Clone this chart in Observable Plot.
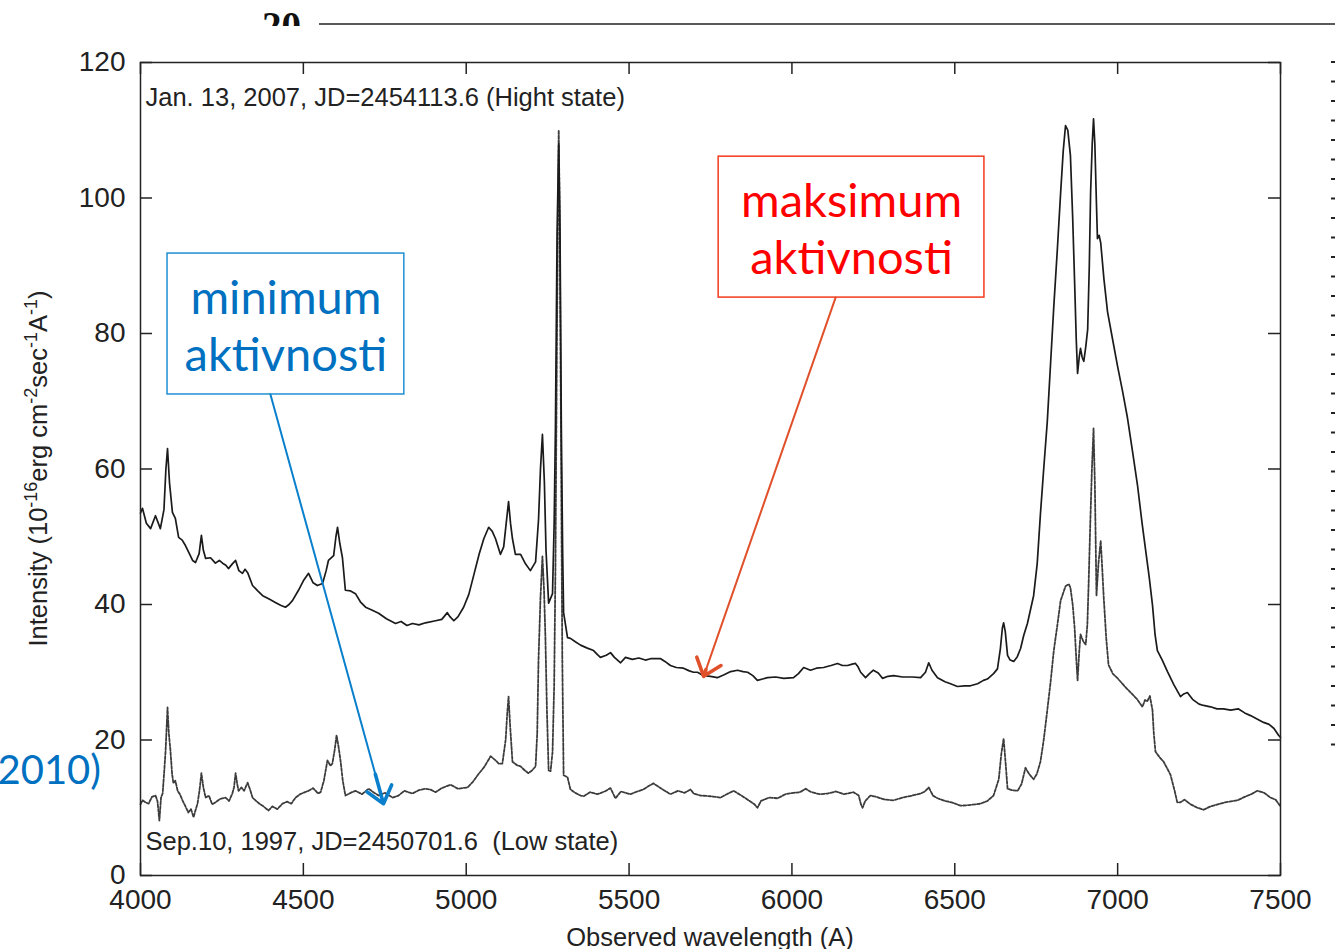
<!DOCTYPE html>
<html>
<head>
<meta charset="utf-8">
<script src="https://cdn.jsdelivr.net/npm/d3@7"></script>
<script src="https://cdn.jsdelivr.net/npm/@observablehq/plot@0.6"></script>
<style>
  html, body { margin: 0; padding: 0; background: #fff; overflow: hidden; }
  svg { display: block; }
</style>
</head>
<body>
<div id="chart"></div>
<script>
// High-state spectrum (Jan. 13, 2007): wavelength in Å, intensity in 1e-16 erg cm^-2 s^-1 Å^-1
const highWavelength = [
  4000, 4006, 4018, 4031, 4046, 4061, 4072, 4078, 4083, 4089, 4098, 4107, 4117, 4128, 4138, 4150,
  4160, 4169, 4180, 4187, 4193, 4200, 4215, 4230, 4242, 4252, 4262, 4270, 4282, 4292, 4302, 4313,
  4321, 4329, 4344, 4360, 4375, 4395, 4414, 4430, 4445, 4456, 4467, 4485, 4500, 4516, 4530, 4543,
  4559, 4570, 4577, 4593, 4600, 4605, 4612, 4620, 4629, 4645, 4660, 4675, 4691, 4710, 4731, 4755,
  4783, 4800, 4818, 4835, 4855, 4875, 4906, 4925, 4942, 4950, 4962, 4975, 4992, 5008, 5023, 5040,
  5054, 5069, 5080, 5090, 5105, 5115, 5121, 5130, 5136, 5142, 5151, 5167, 5182, 5197, 5213, 5222,
  5228, 5234, 5240, 5245, 5253, 5265, 5270, 5274, 5279, 5284, 5288, 5292, 5296, 5299, 5311, 5320,
  5335, 5351, 5370, 5391, 5403, 5412, 5430, 5443, 5455, 5474, 5489, 5510, 5530, 5550, 5566, 5597,
  5610, 5627, 5645, 5667, 5685, 5698, 5710, 5729, 5750, 5771, 5790, 5812, 5833, 5850, 5864, 5880,
  5894, 5910, 5925, 5950, 5975, 6005, 6020, 6036, 6057, 6075, 6097, 6120, 6140, 6155, 6171, 6185,
  6195, 6203, 6211, 6226, 6238, 6250, 6265, 6278, 6295, 6312, 6340, 6370, 6395, 6410, 6420, 6430,
  6447, 6470, 6487, 6508, 6530, 6548, 6570, 6588, 6600, 6619, 6631, 6640, 6646, 6650, 6655, 6662,
  6670, 6681, 6692, 6702, 6712, 6723, 6742, 6753, 6763, 6773, 6784, 6794, 6804, 6815, 6825, 6833,
  6840, 6847, 6855, 6862, 6868, 6873, 6877, 6882, 6886, 6891, 6896, 6902, 6908, 6913, 6917, 6922,
  6926, 6930, 6935, 6938, 6943, 6948, 6958, 6969, 6985, 7000, 7015, 7030, 7046, 7061, 7075, 7086,
  7097, 7107, 7115, 7122, 7137, 7153, 7172, 7193, 7203, 7214, 7230, 7250, 7264, 7285, 7305, 7325,
  7347, 7370, 7390, 7408, 7428, 7448, 7465, 7480, 7494, 7500
];
const highIntensity = [
  53.5, 54.2, 52.0, 51.2, 53.1, 51.2, 54.0, 60.0, 63.0, 58.0, 53.6, 52.7, 49.9, 49.5, 48.7, 47.5,
  46.5, 46.2, 47.5, 50.2, 48.0, 46.8, 46.9, 46.1, 46.5, 46.1, 45.8, 45.3, 46.0, 46.5, 45.0, 44.6,
  45.2, 44.7, 42.8, 42.0, 41.3, 40.8, 40.3, 39.9, 39.6, 40.0, 40.6, 42.1, 43.5, 44.6, 43.2, 42.8,
  43.1, 45.0, 46.5, 47.2, 50.0, 51.4, 49.0, 46.9, 42.1, 42.0, 41.6, 40.4, 39.6, 39.2, 38.7, 37.9,
  37.2, 37.5, 36.9, 37.2, 37.0, 37.3, 37.6, 37.8, 38.8, 38.2, 37.6, 38.2, 39.6, 41.5, 44.3, 47.5,
  49.7, 51.4, 50.8, 49.7, 47.4, 48.5, 51.2, 55.2, 52.0, 49.7, 47.4, 47.4, 46.0, 45.0, 46.3, 52.5,
  60.0, 65.1, 58.0, 48.0, 40.2, 41.6, 52.0, 66.3, 95.0, 108.0, 95.0, 66.3, 48.0, 38.8, 35.1, 35.0,
  34.5, 34.0, 33.6, 33.2, 32.6, 32.2, 32.5, 32.9, 32.2, 31.4, 32.2, 31.9, 32.1, 31.8, 32.0, 32.0,
  31.6, 31.0, 30.7, 30.6, 30.2, 30.0, 30.0, 29.5, 29.4, 29.2, 29.6, 30.1, 30.3, 30.1, 30.0, 29.5,
  28.8, 29.0, 29.2, 29.3, 29.1, 29.2, 29.8, 30.7, 30.3, 30.6, 30.7, 31.0, 31.3, 31.0, 31.0, 31.2,
  31.3, 30.8, 30.0, 29.2, 29.8, 30.3, 29.9, 29.1, 29.4, 29.5, 29.3, 29.3, 29.2, 30.0, 31.4, 30.3,
  29.2, 28.6, 28.3, 27.9, 28.0, 28.0, 28.3, 28.8, 29.0, 29.8, 30.5, 33.5, 36.5, 37.3, 36.0, 32.5,
  31.8, 31.6, 32.3, 33.5, 35.5, 37.2, 41.3, 46.0, 53.4, 60.0, 67.0, 75.5, 84.0, 92.5, 100.8, 107.0,
  110.7, 110.0, 106.3, 97.0, 87.4, 79.0, 74.1, 76.5, 77.8, 76.5, 75.9, 78.0, 80.6, 90.0, 100.8, 108.0,
  111.7, 108.0, 99.0, 94.0, 94.5, 93.4, 88.0, 83.2, 79.0, 75.1, 71.5, 67.6, 62.5, 57.6, 52.0, 48.0,
  44.0, 39.9, 35.5, 33.2, 31.8, 30.1, 28.2, 26.4, 26.8, 27.0, 26.0, 25.3, 25.1, 24.9, 24.6, 24.6,
  24.4, 24.6, 24.0, 23.6, 23.1, 22.6, 22.3, 21.7, 20.7, 20.4
];

// Low-state spectrum (Sep. 10, 1997)
const lowWavelength = [
  4000, 4006, 4015, 4025, 4035, 4046, 4052, 4058, 4063, 4068, 4073, 4077, 4083, 4087, 4092, 4097,
  4101, 4107, 4114, 4121, 4129, 4138, 4147, 4155, 4163, 4168, 4175, 4181, 4187, 4193, 4200, 4210,
  4220, 4230, 4245, 4261, 4272, 4282, 4287, 4292, 4297, 4301, 4310, 4318, 4329, 4337, 4344, 4355,
  4365, 4375, 4385, 4393, 4405, 4420, 4436, 4450, 4463, 4476, 4490, 4505, 4516, 4530, 4545, 4553,
  4563, 4574, 4583, 4589, 4596, 4602, 4608, 4614, 4621, 4629, 4645, 4660, 4680, 4700, 4715, 4731,
  4750, 4774, 4792, 4810, 4835, 4855, 4875, 4890, 4906, 4925, 4952, 4975, 5004, 5020, 5035, 5055,
  5075, 5090, 5100, 5111, 5121, 5126, 5130, 5135, 5142, 5155, 5167, 5180, 5191, 5202, 5213, 5218,
  5222, 5228, 5234, 5239, 5243, 5248, 5253, 5259, 5265, 5270, 5274, 5278, 5282, 5284, 5287, 5291,
  5295, 5299, 5311, 5320, 5335, 5351, 5361, 5380, 5403, 5425, 5443, 5458, 5475, 5504, 5525, 5544,
  5560, 5575, 5581, 5600, 5627, 5650, 5670, 5689, 5698, 5720, 5750, 5781, 5800, 5821, 5845, 5870,
  5885, 5894, 5905, 5930, 5956, 5980, 6005, 6025, 6042, 6060, 6085, 6109, 6135, 6160, 6189, 6205,
  6212, 6217, 6225, 6241, 6260, 6285, 6312, 6340, 6370, 6395, 6408, 6420, 6433, 6447, 6470, 6490,
  6518, 6545, 6579, 6600, 6619, 6635, 6643, 6650, 6657, 6662, 6675, 6693, 6705, 6717, 6728, 6742,
  6752, 6763, 6773, 6784, 6794, 6804, 6815, 6825, 6840, 6850, 6855, 6862, 6868, 6873, 6877, 6882,
  6886, 6895, 6902, 6907, 6911, 6916, 6921, 6926, 6930, 6935, 6941, 6948, 6952, 6957, 6965, 6972,
  6985, 7000, 7020, 7040, 7060, 7076, 7084, 7091, 7099, 7107, 7111, 7116, 7128, 7141, 7150, 7162,
  7175, 7183, 7193, 7205, 7224, 7245, 7264, 7285, 7307, 7330, 7368, 7390, 7410, 7429, 7450, 7469,
  7485, 7500
];
const lowIntensity = [
  10.5, 11.1, 10.8, 10.6, 11.6, 11.8, 11.0, 8.1, 11.5, 12.1, 15.5, 18.4, 24.8, 21.0, 18.4, 15.0,
  13.6, 14.0, 12.5, 12.0, 11.1, 10.2, 9.3, 9.8, 8.6, 9.5, 10.6, 12.5, 15.1, 13.0, 11.5, 11.8,
  10.5, 10.8, 11.3, 11.5, 11.0, 12.1, 13.0, 15.1, 13.5, 12.5, 13.0, 12.5, 13.7, 12.6, 11.5, 11.0,
  10.6, 10.3, 9.9, 9.6, 10.2, 9.8, 10.6, 10.9, 10.6, 11.5, 12.0, 12.3, 12.5, 12.9, 12.1, 12.3,
  14.0, 17.0, 16.2, 16.5, 18.5, 20.7, 19.0, 17.0, 14.0, 11.8, 12.2, 12.5, 12.0, 12.8, 12.3, 11.8,
  12.2, 11.5, 11.8, 12.5, 12.1, 12.6, 12.8, 12.7, 12.3, 12.9, 13.4, 12.8, 13.0, 13.8, 14.8, 16.0,
  17.6, 17.0, 16.5, 16.5, 20.0, 24.0, 26.4, 22.0, 16.8, 16.3, 16.1, 15.5, 15.1, 15.5, 16.1, 21.0,
  31.9, 41.0, 47.1, 42.0, 35.4, 24.0, 15.5, 15.4, 18.2, 28.0, 45.6, 75.0, 100.0, 110.0, 98.0, 65.0,
  32.0, 14.8, 14.5, 12.7, 12.2, 11.8, 11.7, 12.3, 12.0, 12.4, 12.9, 11.4, 12.4, 12.0, 12.4, 12.7,
  13.2, 13.6, 13.4, 12.8, 12.0, 12.5, 12.2, 12.7, 12.1, 11.8, 11.7, 11.5, 12.0, 12.5, 11.8, 11.0,
  10.5, 10.0, 11.0, 11.5, 11.4, 12.0, 12.2, 12.3, 12.8, 12.3, 12.0, 12.1, 12.4, 12.0, 12.3, 11.8,
  10.5, 10.0, 11.0, 11.8, 11.6, 11.2, 11.1, 11.5, 11.8, 12.1, 12.4, 13.0, 11.8, 11.4, 11.0, 10.8,
  10.3, 10.4, 10.6, 11.0, 11.8, 14.2, 18.0, 20.2, 16.0, 12.8, 12.6, 12.5, 13.5, 15.9, 15.0, 14.2,
  15.0, 16.8, 20.0, 24.4, 28.5, 33.2, 37.0, 40.6, 42.7, 43.0, 42.5, 40.0, 36.5, 32.0, 28.8, 33.0,
  35.6, 34.5, 34.1, 37.0, 43.2, 52.0, 60.0, 66.0, 58.0, 41.3, 46.0, 49.4, 46.0, 41.3, 35.0, 31.1,
  29.8, 29.1, 28.0, 27.0, 26.0, 24.9, 25.9, 25.7, 26.5, 24.4, 21.0, 18.3, 17.5, 16.8, 16.0, 14.9,
  12.5, 10.8, 10.8, 11.2, 10.5, 10.0, 9.7, 10.2, 10.5, 10.8, 11.1, 11.6, 12.0, 12.5, 12.2, 11.5,
  11.2, 10.2
];

// Axis ticks and texts
const xTicks = [4000, 4500, 5000, 5500, 6000, 6500, 7000, 7500];
const yTicks = [0, 20, 40, 60, 80, 100, 120];
const highLabel = "Jan. 13, 2007, JD=2454113.6 (Hight state)";
const lowLabel = "Sep.10, 1997, JD=2450701.6  (Low state)";
const xTitle = "Observed wavelength (A)";
const yTitleParts = [
  ["Intensity (10", false], ["-16", true], ["erg cm", false], ["-2", true],
  ["sec", false], ["-1", true], ["A", false], ["-1", true], [")", false]
];

// Callout boxes (in data units) with arrows pointing at each spectrum
const callouts = [
  {text: "minimum\naktivnosti", ink: "#0070C0", edge: "#1E90D2", arrow: "#0A80CC",
   x1: 4083, x2: 4810, y1: 71.0, y2: 91.8, fromX: 4399, fromY: 71.0, toX: 4746, toY: 10.6},
  {text: "maksimum\naktivnosti", ink: "#FF0000", edge: "#F23A1E", arrow: "#E0512B",
   x1: 5775, x2: 6591, y1: 85.3, y2: 106.1, fromX: 6134, fromY: 85.3, toX: 5729, toY: 29.4}
];

const high = highWavelength.map((w, i) => ({w, v: highIntensity[i]}));
const low = lowWavelength.map((w, i) => ({w, v: lowIntensity[i]}));

const W = 1335, H = 949;
const M = {top: 62, right: 55, bottom: 74, left: 140};
const frameW = W - M.left - M.right;
const frameH = H - M.top - M.bottom;
const tickLen = 12;
const sans = "'Liberation Sans', Arial, Helvetica, sans-serif";
const slideFont = "Lato, 'Open Sans', sans-serif";
const ink = "#222";

const calloutMarks = callouts.flatMap(c => [
  Plot.rect([c], {x1: "x1", x2: "x2", y1: "y1", y2: "y2", fill: "white", stroke: c.edge, strokeWidth: 1.5}),
  Plot.text([c], {
    x: d => (d.x1 + d.x2) / 2, y: d => (d.y1 + d.y2) / 2, text: "text",
    fill: c.ink, fontSize: 47, fontFamily: slideFont, lineHeight: 1.21, lineAnchor: "middle"
  }),
  // thin shaft
  Plot.arrow([c], {
    x1: "fromX", y1: "fromY", x2: "toX", y2: "toY",
    stroke: c.arrow, strokeWidth: 2, headLength: 0
  }),
  // heavier open arrowhead at the tip
  Plot.arrow([c], {
    x1: "fromX", y1: "fromY", x2: "toX", y2: "toY",
    stroke: c.arrow, strokeWidth: 3.6, headLength: 8.5, headAngle: 78, insetStart: 394,
    strokeLinecap: "round", strokeLinejoin: "round"
  })
]);

const chart = Plot.plot({
  width: W, height: H,
  marginTop: M.top, marginRight: M.right, marginBottom: M.bottom, marginLeft: M.left,
  style: {fontFamily: sans, background: "#fff", color: ink},
  x: {domain: [4000, 7500]},
  y: {domain: [0, 120]},
  marks: [
    Plot.axisX(xTicks, {anchor: "bottom", tickSize: 0, tickPadding: 14, fontSize: 28, label: null,
      fill: ink, tickFormat: d => String(d)}),
    Plot.axisY(yTicks, {anchor: "left", tickSize: 0, tickPadding: 15, fontSize: 28, label: null,
      fill: ink, tickFormat: d => String(d)}),
    // inward-pointing ticks on all four sides
    Plot.tickX(xTicks, {x: d => d, insetTop: frameH - tickLen, stroke: ink, strokeWidth: 1.5}),
    Plot.tickX(xTicks, {x: d => d, insetBottom: frameH - tickLen, stroke: ink, strokeWidth: 1.5}),
    Plot.tickY(yTicks, {y: d => d, insetRight: frameW - tickLen, stroke: ink, strokeWidth: 1.5}),
    Plot.tickY(yTicks, {y: d => d, insetLeft: frameW - tickLen, stroke: ink, strokeWidth: 1.5}),
    Plot.line(low, {x: "w", y: "v", stroke: "#3c3c3c", strokeWidth: 1.8, strokeDasharray: "3,1.6"}),
    Plot.line(high, {x: "w", y: "v", stroke: "#1b1b1b", strokeWidth: 1.7}),
    Plot.frame({stroke: ink, strokeWidth: 1.5}),
    Plot.text([highLabel], {frameAnchor: "top-left", text: d => d, dx: 5, dy: 35, textAnchor: "start",
      lineAnchor: "middle", fontSize: 25.5, fill: ink}),
    Plot.text([lowLabel], {frameAnchor: "bottom-left", text: d => d, dx: 5, dy: -34, textAnchor: "start",
      lineAnchor: "middle", fontSize: 25.5, fill: ink}),
    ...calloutMarks
  ]
});

const svg = d3.select(chart);

// axis titles
svg.append("text")
  .attr("x", M.left + frameW / 2).attr("y", 946)
  .attr("text-anchor", "middle").attr("font-size", 25.5).attr("fill", ink)
  .text(xTitle);

const yTitle = svg.append("text")
  .attr("transform", `translate(47,${M.top + frameH / 2}) rotate(-90)`)
  .attr("text-anchor", "middle").attr("font-size", 25.5).attr("fill", ink);
let raised = false;
for (const [s, sup] of yTitleParts) {
  const t = yTitle.append("tspan").text(s);
  if (sup && !raised) { t.attr("dy", -10).attr("font-size", 18); raised = true; }
  else if (sup) { t.attr("font-size", 18); }
  else if (raised) { t.attr("dy", 10); raised = false; }
}

// surrounding slide decorations
const deco = svg.append("g");
deco.append("clipPath").attr("id", "topclip")
  .append("rect").attr("x", 0).attr("y", 0).attr("width", W).attr("height", 26);
deco.append("text")
  .attr("x", 262).attr("y", 39).attr("text-anchor", "start").attr("clip-path", "url(#topclip)")
  .attr("font-family", "'Liberation Serif', 'DejaVu Serif', serif").attr("font-weight", "bold")
  .attr("font-size", 39).attr("fill", "#111").text("20");
deco.append("line")
  .attr("x1", 319).attr("x2", W).attr("y1", 24).attr("y2", 24)
  .attr("stroke", ink).attr("stroke-width", 1.5);
for (let y = M.top; y <= 746; y += 19.5) {
  deco.append("line")
    .attr("x1", 1331).attr("x2", W).attr("y1", y).attr("y2", y)
    .attr("stroke", ink).attr("stroke-width", 2);
}
deco.append("text")
  .attr("x", 101).attr("y", 784).attr("text-anchor", "end")
  .attr("font-family", slideFont).attr("font-size", 40).attr("fill", "#0070C0")
  .text("(2010)");

document.getElementById("chart").appendChild(chart);
</script>
</body>
</html>
